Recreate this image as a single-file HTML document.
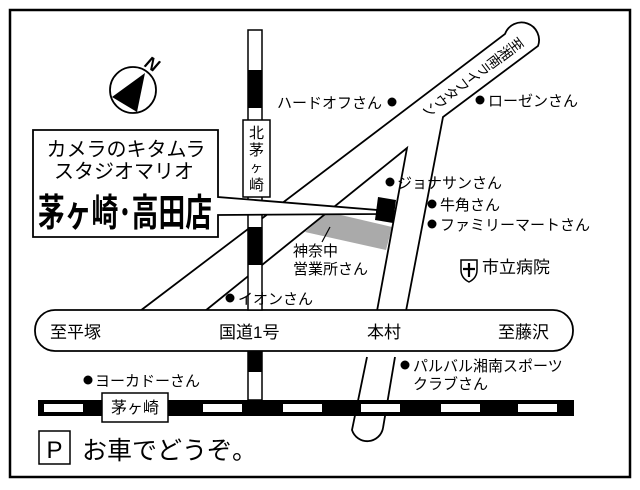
<!DOCTYPE html>
<html><head><meta charset="utf-8"><style>
html,body{margin:0;padding:0;background:#fff;}
svg{display:block;}
text{font-family:"Liberation Sans","Noto Sans CJK JP",sans-serif;fill:#000;}
</style></head><body>
<svg width="640" height="490" viewBox="0 0 640 490" xmlns="http://www.w3.org/2000/svg">
<rect x="0" y="0" width="640" height="490" fill="#fff"/>
<rect x="10" y="10" width="620" height="467" fill="none" stroke="#000" stroke-width="2.5"/>

<polygon points="328,212 392,227 386,250 305,232" fill="#aaa"/>

<g fill="none" stroke="#000" stroke-width="1.8">
<path d="M140,311 L505,34 A16,16 0 0 1 538,46 L443,117 L406,311"/>
<path d="M205,311 L407,148 L377,311"/>
<path d="M395,357 L383,428"/>
<path d="M367,357 L352,430 A16,16 0 0 0 383,428"/>
</g>

<g font-size="14" text-anchor="middle" dominant-baseline="central">
<text transform="translate(516,45) rotate(53)">至</text>
<text transform="translate(505.2,53.1) rotate(53)">湘</text>
<text transform="translate(494.4,61.2) rotate(53)">南</text>
<text transform="translate(483.6,69.3) rotate(53)">ラ</text>
<text transform="translate(472.8,77.4) rotate(53)">イ</text>
<text transform="translate(462,85.5) rotate(53)">フ</text>
<text transform="translate(451.2,93.6) rotate(53)">タ</text>
<text transform="translate(440.4,101.7) rotate(53)">ウ</text>
<text transform="translate(429.6,109.8) rotate(53)">ン</text>
</g>

<rect x="35" y="310" width="538" height="41" rx="20" fill="#fff" stroke="#000" stroke-width="1.8"/>
<text x="50" y="338" font-size="17">至平塚</text>
<text x="219" y="338" font-size="17">国道1号</text>
<text x="367" y="338" font-size="17">本村</text>
<text x="498" y="338" font-size="17">至藤沢</text>

<rect x="248" y="30" width="14" height="280" fill="#fff" stroke="#000" stroke-width="1.5"/>
<rect x="248" y="70" width="14" height="38" fill="#000"/>
<rect x="248" y="227" width="14" height="38" fill="#000"/>
<rect x="248" y="352" width="14" height="48" fill="#fff" stroke="#000" stroke-width="1.5"/>
<rect x="248" y="352" width="14" height="20" fill="#000"/>
<rect x="243" y="120" width="27" height="77" fill="#fff" stroke="#000" stroke-width="1.5"/>
<text x="256.5" y="138" font-size="15" text-anchor="middle">北</text>
<text x="256.5" y="155" font-size="15" text-anchor="middle">茅</text>
<text x="256.5" y="172" font-size="13" text-anchor="middle">ヶ</text>
<text x="256.5" y="190" font-size="15" text-anchor="middle">崎</text>

<rect x="38" y="400" width="536" height="16" fill="#000"/>
<g fill="#fff">
<rect x="44" y="404" width="39" height="8"/>
<rect x="203" y="404" width="39" height="8"/>
<rect x="283" y="404" width="39" height="8"/>
<rect x="361" y="404" width="39" height="8"/>
<rect x="441" y="404" width="39" height="8"/>
<rect x="518" y="404" width="39" height="8"/>
</g>
<rect x="102" y="393" width="66" height="29" fill="#fff" stroke="#000" stroke-width="1.5"/>
<text x="135" y="413" font-size="16" text-anchor="middle">茅ヶ崎</text>

<path d="M33,130 H218 V197 L377,210 L377,214 L218,215 V237 H33 Z" fill="#fff" stroke="#000" stroke-width="1.8"/>
<text x="126" y="156" font-size="20" text-anchor="middle">カメラのキタムラ</text>
<text x="124" y="178" font-size="20" text-anchor="middle">スタジオマリオ</text>
<text x="125" y="226" font-size="38" font-weight="bold" text-anchor="middle" textLength="174" lengthAdjust="spacingAndGlyphs">茅ヶ崎･高田店</text>
<polygon points="378,197 396,200 393,223 375,220" fill="#000"/>

<circle cx="133" cy="90" r="23" fill="#fff" stroke="#000" stroke-width="1.8"/>
<polygon points="145,73 112,97 137,112" fill="#000"/>
<text x="152" y="70" font-size="18" font-weight="bold" font-style="italic" text-anchor="middle" transform="rotate(30 152 64)">N</text>

<g font-size="15">
<text x="277" y="108">ハードオフさん</text>
<circle cx="392" cy="102" r="4.5" fill="#000"/>
<circle cx="480" cy="100" r="4.5" fill="#000"/>
<text x="488" y="106">ローゼンさん</text>
<circle cx="390" cy="182" r="4.5" fill="#000"/>
<text x="397" y="188">ジョナサンさん</text>
<circle cx="432" cy="204" r="4.5" fill="#000"/>
<text x="440" y="210">牛角さん</text>
<circle cx="432" cy="224" r="4.5" fill="#000"/>
<text x="440" y="230">ファミリーマートさん</text>
<text x="293" y="256">神奈中</text>
<text x="293" y="274">営業所さん</text>
<line x1="322" y1="242" x2="330" y2="227" stroke="#000" stroke-width="1.2"/>
<circle cx="230" cy="298" r="4.5" fill="#000"/>
<text x="238" y="304">イオンさん</text>
<circle cx="405" cy="365" r="4.5" fill="#000"/>
<text x="413" y="371">パルバル湘南スポーツ</text>
<text x="413" y="389">クラブさん</text>
<circle cx="88" cy="380" r="4.5" fill="#000"/>
<text x="95" y="386">ヨーカドーさん</text>
</g>
<text x="482" y="273" font-size="17">市立病院</text>
<path d="M461,260 H477 V270 Q477,278 469,282 Q461,278 461,270 Z" fill="#fff" stroke="#000" stroke-width="1.5"/>
<path d="M469,263 V277 M463,269 H475" stroke="#000" stroke-width="2.2"/>

<rect x="39" y="431" width="31" height="33" fill="#fff" stroke="#000" stroke-width="1.5"/>
<text x="54.5" y="458" font-size="24" text-anchor="middle">P</text>
<text x="82" y="459" font-size="25">お車でどうぞ。</text>
</svg>
</body></html>
